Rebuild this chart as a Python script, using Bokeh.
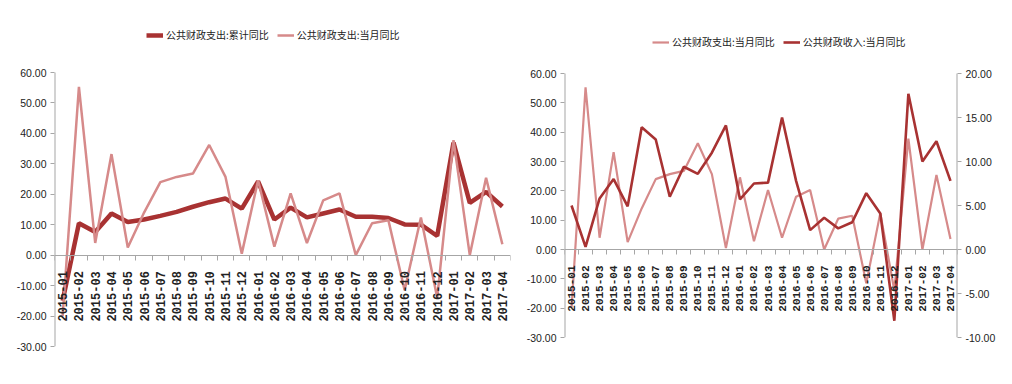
from math import pi
from bokeh.plotting import figure
from bokeh.models import (Range1d, LinearAxis, FixedTicker, Legend, LegendItem,
                          NumeralTickFormatter)
from bokeh.layouts import row
from bokeh.embed import file_html
from bokeh.resources import INLINE

months = ["2015-01", "2015-02", "2015-03", "2015-04", "2015-05", "2015-06", "2015-07",
          "2015-08", "2015-09", "2015-10", "2015-11", "2015-12", "2016-01", "2016-02",
          "2016-03", "2016-04", "2016-05", "2016-06", "2016-07", "2016-08", "2016-09",
          "2016-10", "2016-11", "2016-12", "2017-01", "2017-02", "2017-03", "2017-04"]

# 公共财政支出:累计同比
exp_cum = [-15.0, 10.5, 7.6, 13.7, 10.9, 11.7, 12.9, 14.2, 15.9, 17.4, 18.6, 15.3, 24.2, 11.7,
           15.6, 12.4, 13.7, 15.0, 12.6, 12.6, 12.2, 10.1, 10.0, 6.3, 37.0, 17.2, 20.8, 16.0]
# 公共财政支出:当月同比
exp_mon = [-20.0, 55.3, 4.0, 33.2, 2.5, 14.0, 24.0, 25.7, 26.8, 36.2, 25.7, 0.5, 24.6, 2.8,
           20.3, 4.0, 18.0, 20.3, 0.0, 10.5, 11.5, -11.5, 12.4, -14.0, 37.8, 0.0, 25.4, 3.6]
# 公共财政收入:当月同比 (right axis)
rev_mon = [5.0, 0.3, 5.8, 8.0, 4.9, 13.9, 12.5, 6.0, 9.4, 8.6, 11.0, 14.1, 5.7, 7.5,
           7.6, 15.0, 7.8, 2.2, 3.6, 2.4, 3.1, 6.4, 4.1, -8.1, 17.7, 10.0, 12.3, 7.8]

left_ticks = [-30, -20, -10, 0, 10, 20, 30, 40, 50, 60]
right_ticks = [-10, -5, 0, 5, 10, 15, 20]
LMIN, LMAX = -30, 60
RMIN, RMAX = -10, 20

DARK = "#A83232"
LIGHT = "#D68A8A"
AXIS = "#a6a6a6"
NUM_FONT = "Liberation Sans"
CJK_FONT = "Noto Sans CJK SC"

idx = list(range(len(months)))
x_lo, x_hi = -0.5, len(months) - 0.5


def style_yaxis(ax, ticks):
    ax.ticker = FixedTicker(ticks=ticks)
    ax.formatter = NumeralTickFormatter(format="0.00")
    ax.axis_line_color = None
    ax.major_tick_line_color = AXIS
    ax.major_tick_out = 4
    ax.major_tick_in = 0
    ax.minor_tick_line_color = None
    ax.major_label_text_font = NUM_FONT
    ax.major_label_text_font_size = "10.5px"
    ax.major_label_text_color = "#222222"
    ax.major_label_standoff = 4


def make_fig(fw, fh, ytop, top, left, bottom, right, xfont):
    p = figure(frame_width=fw, frame_height=fh, min_border_top=top, min_border_left=left,
               min_border_bottom=bottom, min_border_right=right,
               x_range=Range1d(x_lo, x_hi), y_range=Range1d(LMIN, ytop),
               output_backend="svg", toolbar_location=None, outline_line_color=None,
               background_fill_color="white", border_fill_color="white")
    p.xgrid.visible = False
    p.ygrid.visible = False
    xa = p.xaxis[0]
    xa.fixed_location = 0
    xa.ticker = FixedTicker(ticks=idx, minor_ticks=[i - 0.5 for i in range(len(months) + 1)])
    xa.major_label_overrides = {i: m for i, m in enumerate(months)}
    xa.axis_line_color = AXIS
    xa.major_tick_line_color = None
    xa.major_tick_out = 0
    xa.major_tick_in = 0
    xa.minor_tick_line_color = AXIS
    xa.minor_tick_out = 5
    xa.minor_tick_in = 0
    xa.major_label_orientation = pi / 2
    xa.major_label_standoff = 11
    xa.major_label_text_font = "Liberation Mono"
    xa.major_label_text_font_style = "bold"
    xa.major_label_text_font_size = xfont
    xa.major_label_text_color = "#222222"
    style_yaxis(p.yaxis[0], left_ticks)
    # value-axis line limited to the tick span
    p.segment(x0=[x_lo], y0=[LMIN], x1=[x_lo], y1=[LMAX], line_color=AXIS, line_width=2)
    return p


def make_legend(items, loc):
    lg = Legend(items=items, orientation="horizontal", location=loc,
                border_line_color=None, background_fill_alpha=0,
                label_text_font=CJK_FONT, label_text_font_size="10px",
                label_text_color="#222222", glyph_width=17, glyph_height=10,
                label_standoff=3, spacing=8, padding=2, margin=0)
    return lg


# Left chart: 274 px for the -30..60 span, 66 px above it for the legend
l_ppu = 274 / (LMAX - LMIN)
l_top = LMAX + 66 / l_ppu
p1 = make_fig(456, 340, l_top, 6, 54, 30, 8, "12px")
r_cum = p1.line(idx, exp_cum, line_color=DARK, line_width=4.5)
r_mon = p1.line(idx, exp_mon, line_color=LIGHT, line_width=2.5)
p1.add_layout(make_legend([LegendItem(label="公共财政支出:累计同比", renderers=[r_cum]),
                           LegendItem(label="公共财政支出:当月同比", renderers=[r_mon])],
                          (92, 304)))

# Right chart: 264 px for the -30..60 span, 67 px above it
r_ppu = 264 / (LMAX - LMIN)
r_top = LMAX + 67 / r_ppu
p2 = make_fig(393, 331, r_top, 6, 46, 39, 40, "11px")
r_rtop = RMIN + (r_top - LMIN) * (RMAX - RMIN) / (LMAX - LMIN)
p2.extra_y_ranges = {"r": Range1d(RMIN, r_rtop)}
ax_r = LinearAxis(y_range_name="r")
style_yaxis(ax_r, right_ticks)
p2.add_layout(ax_r, "right")
p2.segment(x0=[x_hi], y0=[LMIN], x1=[x_hi], y1=[LMAX], line_color=AXIS, line_width=2)
r_exp = p2.line(idx, exp_mon, line_color=LIGHT, line_width=2.2)
r_rev = p2.line(idx, rev_mon, line_color=DARK, line_width=2.6, y_range_name="r")
p2.add_layout(make_legend([LegendItem(label="公共财政支出:当月同比", renderers=[r_exp]),
                           LegendItem(label="公共财政收入:当月同比", renderers=[r_rev])],
                          (88, 288)))

layout = row(p1, p2)
open("out.html", "w").write(file_html(layout, INLINE))
